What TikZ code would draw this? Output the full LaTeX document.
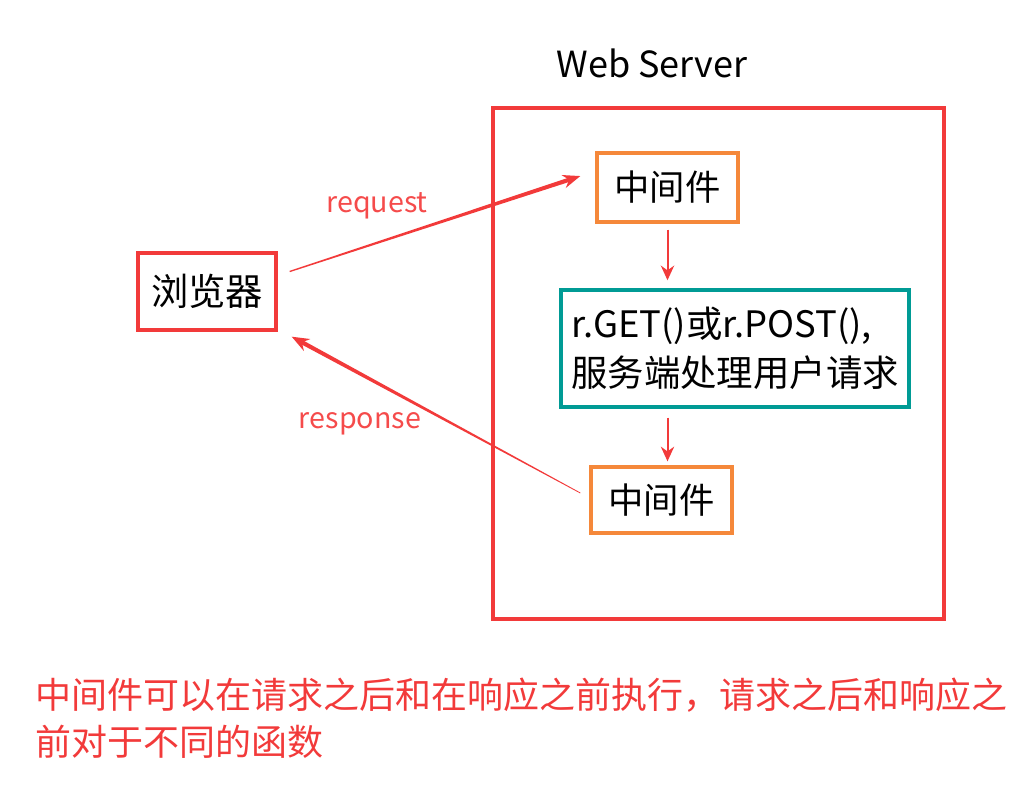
\documentclass[tikz,border=0pt]{standalone}
\usepackage{fontspec}
\setmainfont{Noto Sans CJK SC}
\usetikzlibrary{arrows.meta,calc}

\definecolor{boxred}{HTML}{F23A3A}
\definecolor{mworange}{HTML}{F5883A}
\definecolor{handlerteal}{HTML}{009B95}
\definecolor{labelred}{HTML}{F54B4B}

\tikzset{
	box/.style={draw, inner sep=0pt, font=\fontsize{26.5}{36}\selectfont},
	browserbox/.style={box, draw=boxred, line width=2.5pt, minimum width=103.5pt, minimum height=57.75pt, font=\fontsize{28}{36}\selectfont},
	mwbox/.style={box, draw=mworange, line width=2.5pt, minimum width=105.75pt},
	handlerbox/.style={box, draw=handlerteal, line width=2.6pt, minimum width=261pt, minimum height=87.75pt, align=left, font=\fontsize{27.3}{36.5}\selectfont},
	flow/.style={boxred, line width=1.5pt, -{Stealth[length=11pt, width=10pt]}},
	msg/.style={text=labelred, font=\fontsize{21.5}{24}\selectfont}
}

\begin{document}
\begin{tikzpicture}[x=0.75pt, y=-0.75pt]
	\useasboundingbox (0,0) rectangle (1024,808);

	% web server
	\draw[boxred, line width=2.5pt] (493,108) rectangle (944,619);
	\node[font=\fontsize{27}{32}\selectfont] (server) at (652,63) {Web Server};

	\node[browserbox] (browser) at (207,291.5) {浏览器};
	\node[mwbox, minimum height=51.75pt] (mwin) at (667.5,187.5) {中间件};
	\node[handlerbox] (handler) at (735,348.5) {r.GET()或r.POST(),\\服务端处理用户请求};
	\node[mwbox, minimum height=49.5pt] (mwout) at (661.5,500) {中间件};

	\draw[flow] (mwin.south) ++(0,-4.5pt) -- ($(mwin.south |- handler.north)+(0,6pt)$);
	\draw[flow] ($(mwin.south |- handler.south)+(0,-6.75pt)$) -- ($(mwin.south |- mwout.north)+(0,3pt)$);

	% request / response
	\coordinate (reqA) at ([xshift=9pt, yshift=15pt]browser.east);
	\coordinate (reqB) at ([xshift=-11.25pt, yshift=8.6pt]mwin.west);
	\coordinate (resA) at ([xshift=-6.75pt, yshift=5.25pt]mwout.west);
	\coordinate (resB) at ([xshift=10.5pt, yshift=-3.75pt]browser.south east);

	\fill[boxred] ($(reqA)!0.5pt!90:(reqB)$) -- ($(reqB)!8pt!(reqA)!1.6pt!90:(reqB)$)
		-- ($(reqB)!8pt!(reqA)!1.6pt!-90:(reqB)$) -- ($(reqA)!0.5pt!-90:(reqB)$) -- cycle;
	\draw[flow, line width=2.2pt, -{Stealth[length=13pt, width=10pt]}] ($(reqB)!9pt!(reqA)$) -- (reqB);
	\fill[boxred] ($(resA)!0.3pt!90:(resB)$) -- ($(resB)!8pt!(resA)!1.6pt!90:(resB)$)
		-- ($(resB)!8pt!(resA)!1.6pt!-90:(resB)$) -- ($(resA)!0.3pt!-90:(resB)$) -- cycle;
	\draw[flow, line width=2.2pt, -{Stealth[length=13pt, width=10pt]}] ($(resB)!9pt!(resA)$) -- (resB);

	\node[msg] (reqlabel) at (377,206) {request};
	\node[msg] (reslabel) at (360,424) {response};

	\node[anchor=north west, inner sep=0pt, align=left, text=boxred,
		font=\fontsize{27}{35.25}\selectfont] (note) at (35,678)
		{中间件可以在请求之后和在响应之前执行，请求之后和响应之\\前对于不同的函数};
\end{tikzpicture}
\end{document}
